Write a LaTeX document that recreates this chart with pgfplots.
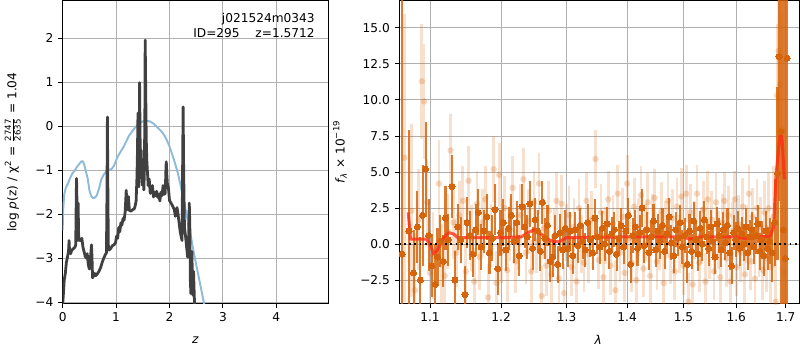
\documentclass[border=0pt]{standalone}
\usepackage{pgfplots}
\pgfplotsset{compat=1.18}
\usepackage{fontspec}
\setmainfont{DejaVu Sans}
\definecolor{mplgrid}{HTML}{B0B0B0}
\definecolor{pzblue}{HTML}{8FBBD9}
\definecolor{pzblack}{HTML}{404040}
\definecolor{dorange}{RGB}{214,100,10}
\definecolor{modelred}{RGB}{255,40,20}
\newcommand{\fs}{\fontsize{8.76}{10.8}\selectfont}
\pgfplotsset{mpl/.style={scale only axis, anchor=south west,
  axis line style={line width=0.7pt}, tick style={line width=0.7pt, color=black},
  major tick length=3.1pt, tick align=outside, xtick pos=bottom, ytick pos=left,
  grid=major, grid style={line width=0.7pt, color=mplgrid},
  tick label style={font=\fs}, label style={font=\fs},
  /pgf/number format/assume math mode=true}}
\begin{document}
\begin{tikzpicture}
\path[use as bounding box] (0,0) rectangle (576pt,252pt);
\begin{axis}[mpl, at={(45.1pt,33.6pt)}, width=191.2pt, height=217.7pt,
  xmin=0, xmax=4.97, ymin=-4.03, ymax=2.85,
  xtick={0,1,2,3,4}, xticklabels={0,1,2,3,4},
  ytick={-4,-3,-2,-1,0,1,2}, yticklabels={−4,−3,−2,−1,0,1,2},
  xlabel={\textit{z}}, xlabel style={at={(axis description cs:0.5,-0.122)}, anchor=center},
  ylabel={log \textit{p}(z) / χ\textsuperscript{2} = $\frac{\mbox{\fontsize{6.2}{6.2}\selectfont 2747}}{\mbox{\fontsize{6.2}{6.2}\selectfont 2635}}$ = 1.04},
  ylabel style={at={(axis description cs:-0.188,0.5)}, anchor=center}]
\addplot[pzblue, line width=1.4pt, line join=round] coordinates {
(0.00,-2.37) (0.01,-1.9) (0.03,-1.55) (0.06,-1.4) (0.10,-1.3) (0.14,-1.18) (0.18,-1.08)
(0.23,-1.0) (0.27,-0.92) (0.31,-0.86) (0.35,-0.8) (0.38,-0.8) (0.41,-0.9) (0.44,-1.05)
(0.47,-1.2) (0.50,-1.45) (0.53,-1.58) (0.57,-1.64) (0.61,-1.62) (0.64,-1.57) (0.66,-1.5)
(0.69,-1.38) (0.72,-1.22) (0.76,-1.12) (0.80,-1.05) (0.84,-1.0) (0.88,-0.99) (0.92,-0.97)
(0.96,-0.9) (1.00,-0.78) (1.04,-0.67) (1.09,-0.57) (1.14,-0.47) (1.19,-0.35) (1.24,-0.22)
(1.30,-0.12) (1.35,-0.04) (1.40,0.03) (1.45,0.08) (1.50,0.11) (1.55,0.12) (1.60,0.12)
(1.65,0.1) (1.70,0.06) (1.75,0.0) (1.80,-0.06) (1.85,-0.12) (1.90,-0.2) (1.95,-0.32)
(2.00,-0.46) (2.05,-0.64) (2.10,-0.83) (2.15,-1.04) (2.20,-1.3) (2.25,-1.6) (2.30,-1.9)
(2.35,-2.2) (2.40,-2.5) (2.45,-2.85) (2.50,-3.15) (2.55,-3.45) (2.60,-3.75) (2.65,-4.05) (2.70,-4.4)};
\addplot[pzblack, line width=2pt, line join=round] coordinates {
(0.00,-4.05) (0.01,-3.9) (0.03,-3.5) (0.05,-3.35) (0.07,-3.1) (0.09,-2.98) (0.11,-2.85)
(0.12,-2.6) (0.13,-2.85) (0.15,-2.9) (0.17,-2.82) (0.20,-2.79) (0.23,-2.75) (0.245,-2.7)
(0.255,-1.6) (0.26,-1.19) (0.265,-1.5) (0.275,-2.3) (0.285,-2.6) (0.29,-1.75) (0.30,-2.55)
(0.32,-2.6) (0.34,-2.6) (0.36,-2.55) (0.38,-2.75) (0.40,-2.85) (0.42,-2.95) (0.44,-3.0)
(0.46,-2.9) (0.48,-3.15) (0.50,-3.25) (0.52,-3.0) (0.54,-2.7) (0.55,-3.0) (0.56,-3.45)
(0.58,-3.4) (0.60,-3.35) (0.62,-3.4) (0.65,-3.36) (0.68,-3.3) (0.71,-3.22) (0.74,-3.1)
(0.77,-3.0) (0.80,-2.92) (0.82,-2.88) (0.83,-1.5) (0.838,0.21) (0.845,-1.2) (0.855,-2.7)
(0.87,-2.82) (0.90,-2.78) (0.93,-2.72) (0.96,-2.7) (0.99,-2.65) (1.01,-2.5) (1.03,-2.55)
(1.05,-2.3) (1.07,-2.4) (1.09,-2.2) (1.11,-2.25) (1.13,-2.1) (1.15,-2.14) (1.17,-1.95)
(1.19,-1.46) (1.20,-1.7) (1.21,-1.9) (1.23,-1.6) (1.25,-1.92) (1.28,-1.93) (1.31,-1.9)
(1.34,-1.88) (1.36,-1.8) (1.375,-1.7) (1.39,-1.2) (1.40,-0.6) (1.41,0.3) (1.415,-0.8)
(1.425,-1.38) (1.435,-0.2) (1.44,0.99) (1.45,-0.3) (1.465,-1.0) (1.47,-0.55) (1.48,-1.1)
(1.49,-1.34) (1.50,-0.9) (1.51,-1.2) (1.52,-1.45) (1.53,-1.0) (1.54,0.5) (1.545,1.96)
(1.555,0.8) (1.565,-0.3) (1.575,-0.77) (1.59,-1.1) (1.60,-1.35) (1.62,-1.2) (1.64,-1.53)
(1.66,-1.45) (1.68,-1.35) (1.70,-1.61) (1.72,-1.5) (1.74,-1.58) (1.76,-1.48) (1.78,-1.62)
(1.80,-1.55) (1.82,-1.7) (1.84,-1.5) (1.86,-1.58) (1.88,-1.35) (1.90,-1.55) (1.92,-1.53)
(1.935,-0.9) (1.94,-0.81) (1.95,-1.1) (1.96,-1.3) (1.98,-1.4) (2.00,-1.69) (2.03,-1.75)
(2.06,-1.82) (2.09,-1.9) (2.11,-2.05) (2.125,-1.99) (2.14,-1.85) (2.16,-2.0) (2.18,-2.2)
(2.20,-2.4) (2.22,-2.52) (2.235,-2.6) (2.245,-1.0) (2.255,0.44) (2.265,-1.0) (2.28,-2.3)
(2.30,-2.5) (2.32,-2.75) (2.34,-2.98) (2.355,-2.7) (2.37,-1.75) (2.38,-2.2) (2.39,-3.5)
(2.40,-3.81) (2.41,-3.0) (2.42,-2.85) (2.43,-3.7) (2.44,-3.85) (2.45,-3.3) (2.46,-3.7) (2.47,-4.1)};
\node[anchor=north east, align=right, font=\fs, inner sep=0pt] at (rel axis cs:0.95,0.96)
  {j021524m0343\\ID=295\hspace{1.3em}z=1.5712};
\end{axis}
\begin{axis}[mpl, at={(287.3pt,33.6pt)}, width=288.4pt, height=217.7pt,
  xmode=log, xmin=1.059, xmax=1.729, ymin=-4.11, ymax=16.87,
  xtick={1.1,1.2,1.3,1.4,1.5,1.6,1.7}, xticklabels={1.1,1.2,1.3,1.4,1.5,1.6,1.7},
  minor xtick={},
  ytick={-2.5,0,2.5,5,7.5,10,12.5,15},
  yticklabels={−2.5,0.0,2.5,5.0,7.5,10.0,12.5,15.0},
  xlabel={\textit{λ}}, xlabel style={at={(axis description cs:0.4975,-0.122)}, anchor=center},
  ylabel={\textit{f}\textsubscript{\textit{λ}} × 10\textsuperscript{−19}},
  ylabel style={at={(axis description cs:-0.1476,0.5)}, anchor=center}]
% faint points
\addplot[color=dorange, only marks, mark=*, mark size=2.3pt,
  mark options={solid, fill=dorange, draw=dorange, draw opacity=0, fill opacity=0.25},
  error bars/.cd, y dir=both, y explicit, error mark=none,
  error bar style={line width=2pt, color=dorange, opacity=0.2}]
 table[x=x, y=y, y error=e] {
x y e
1.066 6.0 10
1.075 2.3 6
1.080 -3.2 4
1.085 1.7 3.5
1.089 11.3 4
1.092 9.9 4
1.096 2.9 3
1.100 -2.0 3
1.104 -0.8 3
1.112 4.2 3
1.116 -1.4 2.8
1.120 -2.2 2.8
1.124 0.9 2.6
1.128 6.5 2.5
1.132 1.5 2.5
1.136 -0.6 2.4
1.140 2.0 2.4
1.145 3.0 2.4
1.149 -1.9 2.4
1.153 4.4 2.4
1.157 0.4 2.3
1.161 -2.6 2.3
1.165 2.8 2.3
1.169 -0.9 2.3
1.173 1.5 2.3
1.177 3.1 2.3
1.181 -3.7 2.3
1.185 0.6 2.2
1.189 5.2 2.3
1.193 -2.7 2.2
1.197 4.8 2.2
1.201 -0.5 2.2
1.205 2.5 2.2
1.209 -1.8 2.2
1.213 1.0 2.2
1.217 3.9 2.2
1.221 -1.2 2.2
1.225 0.4 2.2
1.229 2.0 2.2
1.233 4.5 2.2
1.237 -0.6 2.2
1.241 1.6 2.2
1.245 -1.9 2.2
1.249 2.9 2.2
1.253 0.2 2.2
1.257 4.2 2.1
1.261 -3.6 2.1
1.264 1.1 2.1
1.268 -1.5 2.1
1.272 2.3 2.1
1.276 -2.1 2.1
1.280 0.5 2.0
1.284 3.0 2.0
1.288 -2.4 2.0
1.292 2.8 2.0
1.296 -3.4 2.0
1.300 0.8 2.0
1.304 2.0 2.0
1.308 -1.6 2.0
1.312 1.2 2.0
1.316 -2.6 2.0
1.320 2.5 2.0
1.324 0.0 2.0
1.328 -1.3 2.0
1.332 3.0 2.0
1.336 -0.7 2.0
1.340 1.7 2.0
1.347 5.9 2.0
1.352 -1.1 2.0
1.356 2.2 2.0
1.360 -2.3 2.0
1.364 0.6 2.0
1.368 3.1 2.0
1.372 -1.5 2.0
1.376 1.4 2.0
1.380 -3.2 2.0
1.384 3.5 2.0
1.388 -0.6 2.0
1.392 1.9 2.0
1.396 -2.0 2.0
1.400 4.2 2.0
1.404 0.4 2.0
1.408 -1.3 2.0
1.412 2.6 2.0
1.416 -2.5 2.0
1.420 1.2 2.0
1.424 3.4 2.0
1.428 -1.7 2.0
1.432 0.8 2.0
1.436 2.9 2.0
1.440 -2.2 2.0
1.444 1.5 2.0
1.448 3.2 2.0
1.452 -1.2 2.0
1.456 0.2 2.0
1.460 2.3 2.0
1.464 -2.7 2.0
1.468 1.0 2.0
1.472 3.0 2.0
1.476 -0.8 2.0
1.480 1.8 2.0
1.484 -1.9 2.0
1.488 2.6 2.0
1.492 0.0 2.0
1.496 3.3 2.0
1.500 -1.5 2.0
1.505 3.5 2.0
1.509 -4.0 2.0
1.513 2.2 2.0
1.517 -2.8 2.0
1.521 1.0 2.0
1.525 3.5 2.0
1.529 -1.3 2.0
1.533 0.6 2.0
1.537 2.4 2.0
1.541 -2.6 2.0
1.545 3.1 2.0
1.549 -0.4 2.0
1.553 1.7 2.0
1.557 -1.9 2.0
1.561 2.9 2.0
1.565 0.3 2.0
1.569 -2.3 2.0
1.573 1.5 2.0
1.577 3.0 2.0
1.581 -1.0 2.0
1.585 2.0 2.0
1.589 -2.6 2.0
1.593 0.9 2.0
1.597 3.1 2.0
1.601 -1.6 2.0
1.605 1.4 2.0
1.609 -0.6 2.0
1.613 2.6 2.0
1.617 -2.1 2.0
1.621 0.7 2.0
1.625 3.5 2.0
1.629 -1.2 2.0
1.633 1.9 2.0
1.637 -2.4 2.0
1.641 2.5 2.0
1.645 -0.3 2.0
1.649 1.2 2.1
1.653 -1.8 2.1
1.657 2.2 2.2
1.661 -1.0 2.3
1.665 2.5 2.5
1.669 -1.6 2.8
1.674 1.9 3.5
1.679 -4.0 4
1.682 10.3 5
1.685 13.4 6
1.688 11.1 7
1.692 8.0 8
1.696 -2.0 10
};
% strong points
\addplot[color=dorange, only marks, mark=*, mark size=2.2pt,
  mark options={solid, draw=dorange, fill=dorange, line width=0pt},
  error bars/.cd, y dir=both, y explicit, error mark=none,
  error bar style={line width=1.5pt, color=dorange, opacity=0.85}]
 table[x=x, y=y, y error=e] {
x y e
1.063 -0.7 25
1.072 0.9 7
1.078 -2.0 3
1.083 1.2 2.5
1.087 -2.5 3
1.090 2.0 3.5
1.094 5.2 3.3
1.098 0.6 2.5
1.102 -1.5 2.2
1.107 -2.8 2.8
1.110 -0.9 2
1.114 0.2 1.8
1.118 -1.2 1.8
1.121 1.8 2.2
1.125 0.3 1.8
1.130 4.0 2.2
1.134 -2.5 2
1.138 1.2 1.6
1.142 0.3 1.6
1.148 -3.5 2.0
1.151 1.5 1.8
1.155 0.6 1.7
1.159 -0.7 1.6
1.163 1.0 1.8
1.167 2.2 1.6
1.171 -0.2 1.6
1.175 0.9 1.5
1.179 1.9 1.6
1.183 -0.6 1.5
1.187 0.4 1.6
1.191 2.4 1.8
1.195 -1.7 1.8
1.199 0.8 1.6
1.203 1.5 1.6
1.207 -0.4 1.5
1.211 1.1 1.5
1.215 2.0 1.5
1.219 0.2 1.5
1.223 1.5 1.5
1.227 -0.8 1.4
1.231 2.6 1.6
1.235 1.2 1.5
1.239 0.5 1.5
1.243 2.8 1.6
1.247 -0.3 1.5
1.251 1.7 1.5
1.255 0.9 1.5
1.259 -0.5 1.4
1.262 2.9 1.5
1.266 0.4 1.4
1.270 1.3 1.4
1.274 -1.2 1.4
1.278 -0.9 1.4
1.282 0.6 1.4
1.286 -1.4 1.3
1.290 0.8 1.3
1.294 -0.4 1.3
1.298 1.1 1.3
1.302 -0.3 1.3
1.306 0.9 1.3
1.310 -0.8 1.3
1.314 1.0 1.2
1.318 -0.1 1.2
1.322 1.3 1.2
1.326 0.2 1.2
1.330 -0.4 1.2
1.334 1.5 1.3
1.338 0.3 1.2
1.342 -0.6 1.2
1.346 1.8 1.3
1.350 0.5 1.2
1.354 -0.2 1.2
1.358 1.1 1.2
1.362 0.0 1.2
1.366 1.4 1.2
1.370 -0.5 1.2
1.374 0.7 1.2
1.378 1.0 1.2
1.382 -0.7 1.2
1.386 0.4 1.2
1.390 1.3 1.2
1.394 -0.2 1.2
1.398 0.9 1.2
1.402 2.0 1.2
1.406 -1.4 1.3
1.410 0.6 1.2
1.414 1.2 1.2
1.418 -0.3 1.2
1.422 0.8 1.2
1.426 2.5 1.3
1.430 -0.1 1.2
1.434 1.0 1.2
1.438 -0.6 1.2
1.442 0.5 1.2
1.446 1.6 1.2
1.450 -0.4 1.2
1.454 0.9 1.2
1.458 0.2 1.2
1.462 1.3 1.2
1.466 -0.5 1.2
1.470 0.7 1.2
1.474 1.9 1.3
1.478 0.1 1.2
1.482 -0.8 1.2
1.486 1.0 1.2
1.490 0.4 1.2
1.494 1.5 1.2
1.498 -0.2 1.2
1.502 0.6 1.2
1.507 -1.4 1.3
1.511 0.9 1.2
1.515 -0.5 1.2
1.519 1.6 1.3
1.523 0.3 1.2
1.527 -0.7 1.2
1.531 1.1 1.2
1.535 0.0 1.2
1.539 1.7 1.3
1.543 0.5 1.2
1.547 -0.3 1.2
1.551 1.2 1.2
1.555 0.2 1.2
1.559 -0.9 1.2
1.563 1.4 1.2
1.567 0.6 1.2
1.571 -0.4 1.2
1.575 1.0 1.2
1.579 0.1 1.2
1.583 1.3 1.2
1.587 -0.6 1.2
1.591 -1.5 1.3
1.595 0.8 1.2
1.599 0.3 1.2
1.603 1.1 1.2
1.607 -0.3 1.2
1.611 0.7 1.2
1.615 0.0 1.2
1.619 1.2 1.3
1.623 -0.6 1.2
1.627 0.5 1.2
1.631 1.0 1.2
1.635 -0.2 1.2
1.639 0.6 1.3
1.643 1.4 1.3
1.647 -0.5 1.3
1.651 0.3 1.3
1.655 -0.8 1.4
1.659 0.9 1.4
1.663 -0.3 1.5
1.667 0.2 1.6
1.672 -0.6 2.0
1.677 1.5 3
1.683 4.9 6
1.686 13.0 10
1.690 7.8 12
1.695 1.0 20
1.699 -1.0 25
1.703 12.9 20
};
\addplot[modelred, opacity=0.75, line width=2.2pt, line join=round] coordinates {
(1.071,2.2) (1.074,0.35) (1.095,0.35) (1.100,0.0) (1.105,-0.7) (1.110,-0.4) (1.118,0.4)
(1.125,0.8) (1.132,0.7) (1.138,0.45) (1.15,0.45) (1.20,0.45) (1.23,0.5) (1.24,0.8)
(1.25,1.0) (1.26,0.7) (1.27,0.35) (1.28,0.15) (1.29,0.2) (1.30,0.45) (1.40,0.5) (1.50,0.5)
(1.51,0.35) (1.52,0.4) (1.53,0.5) (1.60,0.5) (1.615,0.4) (1.63,0.4) (1.645,0.5) (1.668,0.55)
(1.675,1.2) (1.680,4.8) (1.686,7.0) (1.690,7.8) (1.693,7.0) (1.697,4.5)};
\addplot[black, line width=1.2pt, dash pattern=on 1.3pt off 2.4pt] coordinates {(1.059,0) (1.729,0)};
\node[anchor=east, font=\fontsize{4.3}{5}\selectfont, inner sep=0pt] at (rel axis cs:0.9725,-0.119)
  {Fri Apr 24 05:53:29 2020};
\end{axis}
\end{tikzpicture}
\end{document}
